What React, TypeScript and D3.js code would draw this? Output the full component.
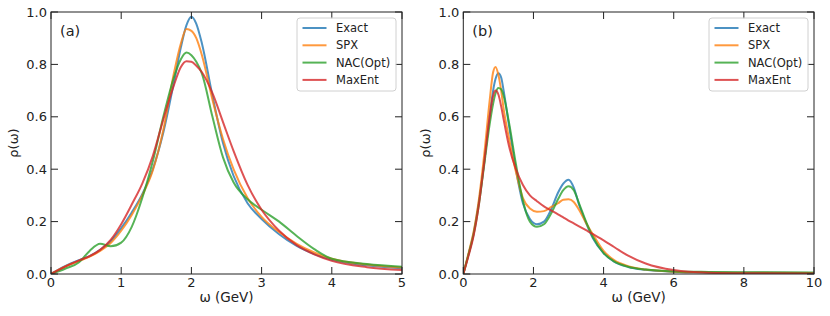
import * as d3 from "d3";

// series names & colours
const seriesNames = ["Exact", "SPX", "NAC(Opt)", "MaxEnt"];
const seriesColors = ["#1f77b4", "#ff7f0e", "#2ca02c", "#d62728"];

// panel (a)
const omegaA = [0, 0.2, 0.4, 0.55, 0.7, 0.85, 1.0, 1.15, 1.3, 1.45, 1.6, 1.75, 1.85, 1.93, 2.0, 2.07, 2.15, 2.3, 2.45, 2.6, 2.8, 3.0, 3.25, 3.5, 3.75, 4.0, 4.5, 5.0];
const exactA = [0, 0.03, 0.053, 0.068, 0.092, 0.125, 0.175, 0.235, 0.305, 0.4, 0.54, 0.73, 0.865, 0.95, 0.982, 0.955, 0.88, 0.68, 0.5, 0.375, 0.27, 0.21, 0.152, 0.107, 0.076, 0.054, 0.033, 0.022];
const spxA = [0, 0.028, 0.05, 0.066, 0.088, 0.118, 0.165, 0.225, 0.3, 0.395, 0.55, 0.765, 0.88, 0.935, 0.928, 0.9, 0.835, 0.665, 0.515, 0.4, 0.29, 0.218, 0.16, 0.115, 0.082, 0.058, 0.036, 0.025];
const nacA = [0, 0.02, 0.045, 0.088, 0.115, 0.106, 0.12, 0.18, 0.29, 0.43, 0.6, 0.75, 0.82, 0.845, 0.835, 0.81, 0.765, 0.6, 0.445, 0.35, 0.285, 0.245, 0.2, 0.145, 0.095, 0.058, 0.038, 0.028];
const maxentA = [0, 0.028, 0.052, 0.068, 0.092, 0.13, 0.19, 0.265, 0.345, 0.45, 0.59, 0.72, 0.79, 0.812, 0.81, 0.795, 0.77, 0.69, 0.58, 0.47, 0.34, 0.245, 0.165, 0.11, 0.075, 0.05, 0.026, 0.015];

// panel (b)
const omegaB = [0, 0.15, 0.3, 0.45, 0.6, 0.75, 0.85, 0.92, 1.0, 1.08, 1.15, 1.3, 1.5, 1.7, 1.9, 2.1, 2.3, 2.5, 2.7, 2.85, 3.0, 3.15, 3.3, 3.5, 3.7, 4.0, 4.3, 4.7, 5.2, 6.0, 7.0, 8.0, 10.0];
const exactB = [0, 0.075, 0.16, 0.28, 0.43, 0.6, 0.7, 0.745, 0.766, 0.75, 0.7, 0.57, 0.4, 0.27, 0.21, 0.19, 0.2, 0.245, 0.31, 0.345, 0.36, 0.33, 0.265, 0.195, 0.135, 0.08, 0.047, 0.027, 0.016, 0.009, 0.006, 0.005, 0.004];
const spxB = [0, 0.08, 0.165, 0.29, 0.46, 0.66, 0.77, 0.79, 0.76, 0.7, 0.63, 0.52, 0.39, 0.29, 0.25, 0.238, 0.24, 0.255, 0.27, 0.283, 0.285, 0.275, 0.245, 0.195, 0.15, 0.088, 0.053, 0.03, 0.017, 0.009, 0.006, 0.005, 0.004];
const nacB = [0, 0.075, 0.155, 0.27, 0.42, 0.57, 0.65, 0.69, 0.71, 0.705, 0.68, 0.58, 0.42, 0.28, 0.2, 0.18, 0.19, 0.23, 0.285, 0.32, 0.335, 0.32, 0.27, 0.2, 0.14, 0.08, 0.048, 0.028, 0.017, 0.01, 0.008, 0.007, 0.006];
const maxentB = [0, 0.07, 0.15, 0.27, 0.43, 0.6, 0.68, 0.7, 0.685, 0.64, 0.59, 0.49, 0.4, 0.34, 0.3, 0.278, 0.258, 0.243, 0.228, 0.216, 0.204, 0.193, 0.182, 0.167, 0.152, 0.128, 0.103, 0.07, 0.04, 0.015, 0.005, 0.003, 0.002];

// ticks
const yTicks = [0, 0.2, 0.4, 0.6, 0.8, 1.0];
const xTicksA = [0, 1, 2, 3, 4, 5];
const xTicksB = [0, 2, 4, 6, 8, 10];

const FONT = "DejaVu Sans, sans-serif";

const Panel = ({ left, right, top, bottom, xMax, xTicks, omega, series, tag }) => {
  const x = d3.scaleLinear().domain([0, xMax]).range([left, right]);
  const y = d3.scaleLinear().domain([0, 1]).range([bottom, top]);
  const line = d3.line().x(d => x(d[0])).y(d => y(d[1])).curve(d3.curveMonotoneX);
  const tl = 7;
  const lg = { x: right - 105, y: top + 6, w: 99, h: 73 };

  return (
    <g>
      <defs>
        <clipPath id={"clip" + tag}>
          <rect x={left} y={top} width={right - left} height={bottom - top} />
        </clipPath>
      </defs>
      <g clipPath={`url(#clip${tag})`}>
        {series.map((vals, i) => (
          <path key={i} d={line(omega.map((w, j) => [w, vals[j]]))} fill="none"
            stroke={seriesColors[i]} strokeOpacity={0.8} strokeWidth={2} strokeLinejoin="round" />
        ))}
      </g>
      <rect x={left} y={top} width={right - left} height={bottom - top} fill="none" stroke="#222" strokeWidth={1} />
      {yTicks.map(t => (
        <g key={"y" + t}>
          <line x1={left} x2={left + tl} y1={y(t)} y2={y(t)} stroke="#222" />
          <line x1={right} x2={right - tl} y1={y(t)} y2={y(t)} stroke="#222" />
          <text x={left - 4} y={y(t)} dy="0.36em" textAnchor="end" fontSize={13} fontFamily={FONT} fill="#222">{d3.format(".1f")(t)}</text>
        </g>
      ))}
      {xTicks.map(t => (
        <g key={"x" + t}>
          <line x1={x(t)} x2={x(t)} y1={bottom} y2={bottom - tl} stroke="#222" />
          <line x1={x(t)} x2={x(t)} y1={top} y2={top + tl} stroke="#222" />
          <text x={x(t)} y={bottom + 3} dy="0.76em" textAnchor="middle" fontSize={13} fontFamily={FONT} fill="#222">{t}</text>
        </g>
      ))}
      <text x={(left + right) / 2} y={302} textAnchor="middle" fontSize={13.5} fontFamily={FONT} fill="#222">ω (GeV)</text>
      <text transform={`translate(${left - 33},${(top + bottom) / 2}) rotate(-90)`} textAnchor="middle" fontSize={13} fontFamily={FONT} fill="#222">ρ(ω)</text>
      <text x={left + 9} y={36} fontSize={14.5} fontFamily={FONT} fill="#222">{"(" + tag + ")"}</text>
      <rect x={lg.x} y={lg.y} width={lg.w} height={lg.h} rx={3} fill="white" fillOpacity={0.8} stroke="#d0d0d0" />
      {seriesNames.map((n, i) => (
        <g key={n}>
          <line x1={lg.x + 5.5} x2={lg.x + 29.5} y1={lg.y + 10 + i * 17.3} y2={lg.y + 10 + i * 17.3}
            stroke={seriesColors[i]} strokeOpacity={0.8} strokeWidth={2} />
          <text x={lg.x + 39} y={lg.y + 10 + i * 17.3} dy="0.36em" fontSize={11.5} fontFamily={FONT} fill="#222">{n}</text>
        </g>
      ))}
    </g>
  );
};

export default function App() {
  return (
    <svg width={830} height={316} style={{ position: "absolute", left: 0, top: 0, background: "white" }}>
      <Panel left={51} right={402} top={12} bottom={274} xMax={5} xTicks={xTicksA} omega={omegaA}
        series={[exactA, spxA, nacA, maxentA]} tag="a" />
      <Panel left={463.3} right={814} top={12} bottom={274} xMax={10} xTicks={xTicksB} omega={omegaB}
        series={[exactB, spxB, nacB, maxentB]} tag="b" />
    </svg>
  );
}
